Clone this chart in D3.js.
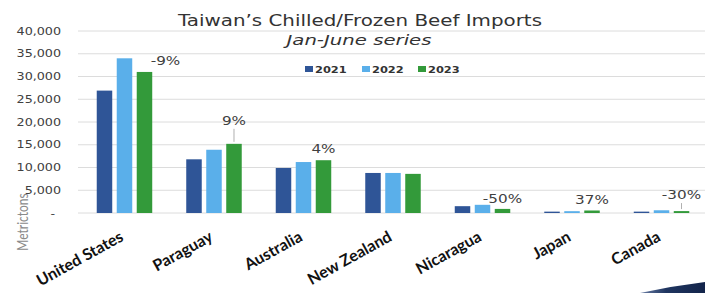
<!DOCTYPE html>
<html>
<head>
<meta charset="utf-8">
<script src="https://cdn.jsdelivr.net/npm/d3@7"></script>
<style>
  body { margin: 0; background: #fff; }
  svg { display: block; }
</style>
</head>
<body>
<svg id="chart" width="705" height="293"></svg>
<script>
const countries = ["United States", "Paraguay", "Australia", "New Zealand", "Nicaragua", "Japan", "Canada"];
const years = ["2021", "2022", "2023"];
const v2021 = [26900, 11800, 9900, 8800, 1500, 300, 300];
const v2022 = [34000, 13900, 11200, 8800, 1800, 400, 600];
const v2023 = [31000, 15200, 11600, 8600, 900, 550, 420];
const changeLabels = ["-9%", "9%", "4%", "", "-50%", "37%", "-30%"];
const yTicks = [0, 5000, 10000, 15000, 20000, 25000, 30000, 35000, 40000];

const colors = { "2021": "#2f5597", "2022": "#5aafea", "2023": "#339a3a" };
// manual nudges for the % labels (like dragged excel labels)
const labelDx = [21, 0, 0, 0, 0, 0, 0];
const labelDy = [-7, -19, -7, -7, -6, -6, -12];
const leader = [false, true, false, false, false, false, true];

const SX = 1.27; // the picture is stretched sideways
const series = years.map((y, i) => ({ year: y, values: [v2021, v2022, v2023][i] }));

const svg = d3.select("#chart");

const y = d3.scaleLinear().domain([0, 40000]).range([213, 31]);
const x0 = d3.scaleBand().domain(countries).range([80, 706]).paddingInner(0.38).paddingOuter(0.187);
const x1 = d3.scaleBand().domain(years).range([0, x0.bandwidth()]).paddingInner(0.225);

function stretchText(parent, x, yy, str, rot) {
    const g = parent.append("g")
        .attr("transform", `translate(${x},${yy}) scale(${SX},1)` + (rot ? ` rotate(${rot})` : ""));
    return g.append("text").text(str);
}

// gridlines
svg.append("g").selectAll("line")
    .data(yTicks)
    .join("line")
    .attr("x1", 78).attr("x2", 705)
    .attr("y1", d => y(d)).attr("y2", d => y(d))
    .attr("stroke", "#dcdcdc")
    .attr("stroke-width", 1);

// y tick labels
const fmt = d3.format(",");
yTicks.forEach(t => {
    stretchText(svg, t === 0 ? 55 : 61, y(t) + 3.5, t === 0 ? "-" : fmt(t))
        .attr("text-anchor", "end")
        .style("font", "10px 'DejaVu Sans'")
        .attr("fill", "#404040");
});

// bars
const groups = svg.append("g").selectAll("g")
    .data(countries)
    .join("g")
    .attr("transform", d => `translate(${x0(d)},0)`);

groups.selectAll("rect")
    .data((d, i) => series.map(s => ({ year: s.year, value: s.values[i] })))
    .join("rect")
    .attr("x", d => x1(d.year))
    .attr("width", x1.bandwidth())
    .attr("y", d => y(d.value))
    .attr("height", d => y(0) - y(d.value))
    .attr("fill", d => colors[d.year]);

// change labels on 2023 bars
countries.forEach((c, i) => {
    if (!changeLabels[i]) return;
    const cx = x0(c) + x1("2023") + x1.bandwidth() / 2;
    const top = y(v2023[i]);
    if (leader[i]) {
        svg.append("line")
            .attr("x1", cx).attr("x2", cx)
            .attr("y1", top + labelDy[i] + 4).attr("y2", top - 2)
            .attr("stroke", "#b0b0b0").attr("stroke-width", 1);
    }
    stretchText(svg, cx + labelDx[i], top + labelDy[i], changeLabels[i])
        .attr("text-anchor", "middle")
        .style("font", "12px 'DejaVu Sans'")
        .attr("fill", "#404040");
});

// x labels
countries.forEach(c => {
    svg.append("text")
        .attr("transform", `translate(${x0(c) + x0.bandwidth() / 2},240) rotate(-29)`)
        .attr("text-anchor", "end")
        .style("font", "bold 16px Lato")
        .attr("fill", "#111")
        .text(c);
});

// axis title
stretchText(svg, 28, 222, "Metrictons", -90)
    .attr("text-anchor", "middle")
    .style("font", "12px Lato")
    .attr("fill", "#8a8a8a");

// title
svg.append("text")
    .attr("x", 360).attr("y", 26)
    .attr("text-anchor", "middle")
    .attr("textLength", 364).attr("lengthAdjust", "spacingAndGlyphs")
    .style("font", "15px 'DejaVu Sans'")
    .attr("fill", "#333")
    .text("Taiwan’s Chilled/Frozen Beef Imports");

svg.append("text")
    .attr("x", 359).attr("y", 45)
    .attr("text-anchor", "middle")
    .attr("textLength", 145).attr("lengthAdjust", "spacingAndGlyphs")
    .style("font", "italic 14px 'DejaVu Sans'")
    .attr("fill", "#333")
    .text("Jan-June series");

// legend
const legX = [305, 362, 418];
const leg = svg.append("g");
years.forEach((yr, i) => {
    leg.append("rect")
        .attr("x", legX[i]).attr("y", 66)
        .attr("width", 8).attr("height", 6)
        .attr("fill", colors[yr]);
    stretchText(leg, legX[i] + 10, 73, yr)
        .style("font", "bold 9px 'DejaVu Sans'")
        .attr("fill", "#333");
});

// corner swoosh
const grad = svg.append("defs").append("linearGradient")
    .attr("id", "sw").attr("x1", 0).attr("x2", 1);
grad.append("stop").attr("offset", 0).attr("stop-color", "#6b7fa6");
grad.append("stop").attr("offset", 0.4).attr("stop-color", "#1f3560");
grad.append("stop").attr("offset", 1).attr("stop-color", "#13244a");
svg.append("path")
    .attr("d", "M640,293 Q672,286 705,282 L705,293 Z")
    .attr("fill", "url(#sw)");
</script>
</body>
</html>
